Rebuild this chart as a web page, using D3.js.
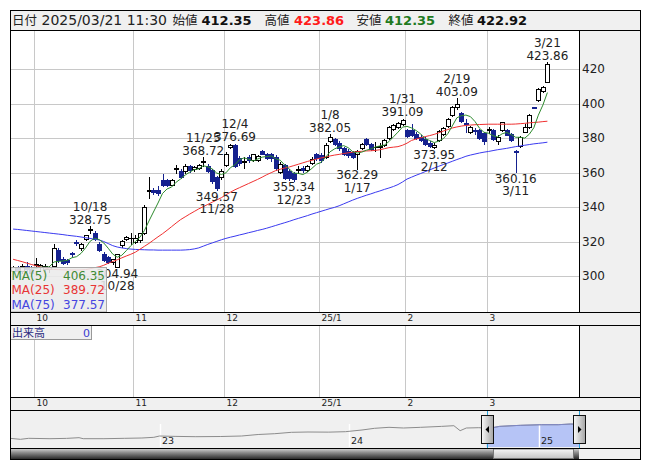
<!DOCTYPE html>
<html><head><meta charset="utf-8">
<script src="https://cdn.jsdelivr.net/npm/d3@7"></script>
<style>body{margin:0;background:#fff}svg{display:block}</style>
</head><body>
<svg id="c" width="653" height="470"></svg>
<script>
// ---------------- DATA ----------------
const dates = ["2024-09-24","2024-09-25","2024-09-26","2024-09-27","2024-09-30",
"2024-10-01","2024-10-02","2024-10-03","2024-10-04","2024-10-07","2024-10-08","2024-10-09","2024-10-10","2024-10-11","2024-10-15","2024-10-16","2024-10-17","2024-10-18","2024-10-21","2024-10-22","2024-10-23","2024-10-24","2024-10-25","2024-10-28","2024-10-29","2024-10-30","2024-10-31",
"2024-11-01","2024-11-05","2024-11-06","2024-11-07","2024-11-08","2024-11-11","2024-11-12","2024-11-13","2024-11-14","2024-11-15","2024-11-18","2024-11-19","2024-11-20","2024-11-21","2024-11-22","2024-11-25","2024-11-26","2024-11-27","2024-11-28","2024-11-29",
"2024-12-02","2024-12-03","2024-12-04","2024-12-05","2024-12-06","2024-12-09","2024-12-10","2024-12-11","2024-12-12","2024-12-13","2024-12-16","2024-12-17","2024-12-18","2024-12-19","2024-12-20","2024-12-23","2024-12-24","2024-12-25","2024-12-26","2024-12-27","2024-12-30",
"2025-01-06","2025-01-07","2025-01-08","2025-01-09","2025-01-10","2025-01-14","2025-01-15","2025-01-16","2025-01-17","2025-01-20","2025-01-21","2025-01-22","2025-01-23","2025-01-24","2025-01-27","2025-01-28","2025-01-29","2025-01-30","2025-01-31",
"2025-02-03","2025-02-04","2025-02-05","2025-02-06","2025-02-07","2025-02-10","2025-02-12","2025-02-13","2025-02-14","2025-02-17","2025-02-18","2025-02-19","2025-02-20","2025-02-21","2025-02-25","2025-02-26","2025-02-27","2025-02-28",
"2025-03-03","2025-03-04","2025-03-05","2025-03-06","2025-03-07","2025-03-10","2025-03-11","2025-03-12","2025-03-13","2025-03-14","2025-03-17","2025-03-18","2025-03-19","2025-03-21"];

const open = [303,305,303,306,304,
306.5,305,304,304,306,315,310,309,313.5,320,316,321.5,326.5,325,318.5,313,311,308,305.5,318,321.5,322,
320,321,325,349.5,350,350,355.5,355.5,353,362,361,361,364,362,362.5,366,364,361.5,357.5,357.5,
364.5,374.5,375.8,368.5,366,369,367.5,367.5,372.5,370.5,371,369,360.5,364.5,361,359.5,361.5,362.5,361.5,365.5,370.5,
370,369,378,379.5,377,374,372.5,372,370.5,374,379.5,376.5,374.5,375,376,380,385,386.5,388,
384.5,384.5,382.5,380.5,379.5,377,374.5,379,382.5,387,393.5,398,394.5,388.5,383.5,384.5,384.5,383,
384.8,384.5,378.5,384.6,384.6,382.5,372.3,375.5,383.7,386.5,398,402,407.5,412.35];

const high = [306,306,307,308,306,
310.4,307,307,306,318.5,316.5,311,310,314,321,319,324,328.75,326,319.5,314,311.5,310,313,321,323,325,
324,325,341,357.5,351,352,359,356.5,356.5,364.5,362,365,364.5,364,365,368.72,365,362,358,362,
372,376.5,376.69,369.5,369,370,371,370,373,371.5,371.5,370,366,365,362,360.5,363.5,363.5,364.5,369,371.5,
371.5,377,382.05,380,378,375,373.5,372.5,373,377,380,377,377.5,377,379.5,387,388,389,391.09,
385,388,383.5,381.5,380.5,378,377,384.5,386.5,391.5,398.5,403.09,395,391,387,386,385,383.5,
386.5,385,382,389.5,385,383,372.8,381,388,393.8,398.2,408.8,410.3,423.86];

const low = [301,302,302,303,300,
304.6,303,303,302.5,305,308,307,307,311.5,318,315,321,325,321,314.5,308.5,307.5,307,304.94,317,321,318.5,
319,320,324.5,345.5,347.5,347,352,352,352.5,359.5,357,360,360.5,361,362,363.5,360.5,354,349.57,356.5,
364,374,363,364.5,362.5,366,366.5,366.8,370.5,368,366.5,361.5,360,356,355.5,355.34,359.5,360.5,361,365,367.5,
366,368.5,377.5,376,373,370,369,368.5,362.29,373.5,376,373,372.5,369,375.5,379.5,384.5,386,387.5,
380.5,381,379.5,378,376,375,373.95,378.5,382,386.5,393,397,389.5,383.5,383,382.5,379.5,376.5,
383,379,376.5,384,381.5,378,360.16,375,383.5,386,397.2,401.5,406.5,412.35];

const close = [305,303,306,304,302,
307,306.5,306,305,316,309,307.5,308,312.5,319,318.5,323.5,327,321.5,315,309,308,310,312.5,320.5,322.5,322.3,
322,325,340,350,348.5,348,352.8,353,355.5,362.5,357.5,364,361.5,363,364.5,366.5,361,355,351,361,
371,376,363.5,365.5,366.5,367,370.5,369.5,371,368.5,368.5,362.5,365,357,357,356.5,362,361.5,364,368,368.5,
367,376,380.5,376.5,374,371,370,369,372.5,376.5,376.5,373.5,375,375.5,379,386.5,387.5,388.5,390.2,
381,382,380,378.8,376.5,375.5,376,384,386,391,398,399.5,390,388,386.5,384,380,378,
385.2,379.5,380.5,389,382,378.8,371.8,380.5,386.5,393.3,397.5,408.33,409.7,422.92];

const ma25 = [309.7,309.0,308.3,307.5,306.7,306.0,305.3,304.7,304.0,303.8,303.7,303.6,303.5,303.5,303.5,303.5,303.7,304.2,304.8,305.3,306.2,307.4,308.4,309.4,310.5,311.6,312.6,313.8,315.5,317.2,318.9,320.8,322.7,324.5,326.5,328.6,330.7,332.7,334.3,335.9,337.4,338.9,340.2,341.5,342.8,344.1,345.4,347.1,348.6,350.0,351.2,352.4,353.6,354.8,356.0,357.3,358.7,359.9,361.1,361.9,362.6,363.2,364.0,364.8,365.6,366.4,367.1,367.8,368.4,369.0,369.6,370.1,370.5,371.0,371.4,371.8,372.1,372.3,372.5,372.6,372.8,373.2,373.8,374.4,374.7,375.0,375.8,377.0,378.6,379.4,380.1,380.8,381.4,382.1,383.0,384.0,384.9,385.8,386.4,386.9,387.3,387.5,387.7,387.8,387.9,388.0,388.0,388.0,388.0,388.0,388.0,388.1,388.3,388.5,388.8,389.0,389.2,389.5,389.72];

const ma75 = [327.2,327.0,326.7,326.4,326.1,325.8,325.5,325.2,324.9,324.6,324.3,324.0,323.6,323.3,323.0,322.6,322.2,321.8,321.3,320.9,320.0,318.8,317.6,316.8,316.3,315.9,315.6,315.4,315.3,315.2,315.1,315.1,315.0,315.0,315.0,315.0,315.0,315.0,315.1,315.3,315.7,316.3,317.3,318.3,319.2,320.1,321.0,321.8,322.5,323.1,323.8,324.4,325.1,325.7,326.4,327.0,327.7,328.5,329.3,330.1,330.9,331.7,332.6,333.4,334.2,335.0,335.9,336.7,337.5,338.3,339.1,339.8,340.7,341.8,342.9,344.0,345.0,345.9,346.8,347.6,348.5,349.3,350.2,351.0,351.9,353.0,354.5,356.2,357.3,358.4,359.4,360.5,361.5,362.6,363.6,364.6,365.5,366.5,367.5,368.4,369.4,370.1,370.7,371.3,371.8,372.2,372.7,373.2,373.6,374.0,374.5,375.0,375.4,375.8,376.2,376.6,376.9,377.2,377.57];

const priceTicks = [300,320,340,360,380,400,420];
const monthLabels = ["10","11","12","25/1","2","3"];
const monthStarts = ["2024-10-01","2024-11-01","2024-12-02","2025-01-06","2025-02-03","2025-03-03"];
const highMarks = ["2024-10-18","2024-11-25","2024-12-04","2025-01-08","2025-01-31","2025-02-19","2025-03-21"];
const lowMarks = ["2024-10-28","2024-11-28","2024-12-23","2025-01-17","2025-02-12","2025-03-11"];
const headerStamp = "2025/03/21 11:30";
const headerNames = ["日付","始値","高値","安値","終値"];
const maNames = ["MA(5)","MA(25)","MA(75)"];
const volumeLabel = ["出来高","0"];

const navDates = ["2022-03-19","2022-04-08","2022-04-24","2022-06-04","2022-07-06","2022-07-30","2022-08-07","2022-09-16","2022-10-26","2022-11-28","2022-12-21","2023-01-01","2023-01-31","2023-03-12","2023-04-29","2023-06-08","2023-07-10","2023-08-11","2023-09-12","2023-10-14","2023-11-23","2023-12-25","2024-01-26","2024-02-19","2024-03-18","2024-04-15","2024-05-18","2024-06-27","2024-07-21","2024-08-02","2024-08-14","2024-09-07","2024-09-27","2024-10-17","2024-11-26","2025-01-06","2025-02-07","2025-03-03","2025-03-21"];
const navValues = [139,123,139,133,138,149,133,133,139,144,155,176,170,165,168,176,200,213,235,240,238,245,272,299,315,304,315,330,341,261,304,309,299,330,347,357,357,368,362];
const navYears = ["23","24","25"];
const navYearStarts = ["2023-01-01","2024-01-01","2025-01-01"];
const navWindow = ["2024-09-22","2025-03-19"];

// ---------------- LAYOUT ----------------
const L = 10, R = 641, PR = 579, PT = 30, PB = 312;
const FONT = "'DejaVu Sans', Verdana, sans-serif";
const JFONT = "'Noto Sans CJK JP', 'DejaVu Sans', sans-serif";
const C_DOWN = "#15218f", C_GRID = "#c8c8c8", C_PANEL = "#f0f0f0";

const svg = d3.select("#c");
const defs = svg.append("defs");
defs.append("clipPath").attr("id","plotClip").append("rect").attr("x",L).attr("y",PT).attr("width",PR-L).attr("height",PB-PT);
defs.append("clipPath").attr("id","navClip").append("rect").attr("x",L).attr("y",411).attr("width",PR-L).attr("height",37);
function grad(id, stops, horiz){
  const g = defs.append("linearGradient").attr("id",id).attr("x1",0).attr("y1",0).attr("x2",horiz?1:0).attr("y2",horiz?0:1);
  stops.forEach(s=>g.append("stop").attr("offset",s[0]).attr("stop-color",s[1]));
}
grad("sbDark",[["0%","#d4d4d4"],["40%","#8a8a8a"],["100%","#2a2a2a"]]);
grad("sbThumb",[["0%","#f6f6f6"],["100%","#c4c4c4"]]);
grad("handle",[["0%","#fafafa"],["100%","#a4a4a4"]],true);

const n = dates.length;
const x = d3.scaleLinear().domain([-0.685, 124.98]).range([L, PR]);
const y = d3.scaleLinear().domain([279.13, 442.61]).range([PB, PT]);
const idxOf = d => dates.indexOf(d);
const cx = i => Math.round(x(i));

// backgrounds
svg.append("rect").attr("x",0).attr("y",0).attr("width",653).attr("height",470).attr("fill","#fff");
svg.append("rect").attr("x",L).attr("y",10).attr("width",R-L).attr("height",20).attr("fill",C_PANEL);
svg.append("rect").attr("x",PR).attr("y",PT).attr("width",R-PR).attr("height",PB-PT).attr("fill",C_PANEL);
svg.append("rect").attr("x",L).attr("y",312).attr("width",R-L).attr("height",13).attr("fill",C_PANEL);
svg.append("rect").attr("x",PR).attr("y",325).attr("width",R-PR).attr("height",72).attr("fill",C_PANEL);
svg.append("rect").attr("x",L).attr("y",397).attr("width",R-L).attr("height",13).attr("fill",C_PANEL);
svg.append("rect").attr("x",L).attr("y",410).attr("width",R-L).attr("height",49).attr("fill",C_PANEL);

// grid
const gridXs = monthStarts.map(d => Math.round(x(idxOf(d)) - 2) + 0.5);
const grid = svg.append("g").attr("stroke",C_GRID).attr("stroke-width",1);
priceTicks.forEach(v => {
  const yy = Math.round(y(v)) + 0.5;
  grid.append("line").attr("x1",L).attr("x2",PR).attr("y1",yy).attr("y2",yy);
});
gridXs.forEach(gx => {
  grid.append("line").attr("x1",gx).attr("x2",gx).attr("y1",PT).attr("y2",PB);
  grid.append("line").attr("x1",gx).attr("x2",gx).attr("y1",325).attr("y2",397);
});

// y-axis labels
const yAxis = d3.axisRight(y).tickValues(priceTicks).tickSize(0).tickPadding(3);
const ya = svg.append("g").attr("transform",`translate(${PR},0)`).call(yAxis);
ya.select(".domain").remove();
ya.selectAll("text").attr("font-family",FONT).attr("font-size","12px").attr("fill","#222");

// month labels (two strips)
[321, 406].forEach(base => {
  monthLabels.forEach((t,k) => {
    svg.append("text").attr("x",gridXs[k]+2).attr("y",base).text(t)
      .attr("font-family",FONT).attr("font-size","9px").attr("fill","#222");
  });
});

// candles
const cg = svg.append("g").attr("clip-path","url(#plotClip)");
for (let i=0;i<n;i++){
  const up = close[i] >= open[i];
  const c = cx(i);
  const col = up ? "#000" : C_DOWN;
  cg.append("line").attr("x1",c+0.5).attr("x2",c+0.5).attr("y1",Math.round(y(high[i]))).attr("y2",Math.round(y(low[i]))+1)
    .attr("stroke",col).attr("stroke-width",1);
  const t = Math.round(y(Math.max(open[i],close[i]))), b = Math.round(y(Math.min(open[i],close[i])));
  if (b - t < 1) {
    cg.append("line").attr("x1",c-2).attr("x2",c+3).attr("y1",t+0.5).attr("y2",t+0.5).attr("stroke",col);
  } else if (up) {
    cg.append("rect").attr("x",c-1.5).attr("y",t+0.5).attr("width",4).attr("height",b-t)
      .attr("fill","#fff").attr("stroke","#000").attr("stroke-width",1);
  } else {
    cg.append("rect").attr("x",c-2).attr("y",t).attr("width",5).attr("height",b-t+1).attr("fill",C_DOWN);
  }
}

// moving averages
const ma5 = close.map((v,i) => i<4 ? null : d3.mean(close.slice(i-4,i+1)));
const line = d3.line().defined(d => d[1] != null).x(d => x(d[0])).y(d => y(d[1]));
[[ma75,"#3a3af0"],[ma25,"#f03030"],[ma5,"#2e8b2e"]].forEach(([arr,col]) => {
  cg.append("path").attr("d",line(arr.map((v,i)=>[i,v]))).attr("fill","none").attr("stroke",col).attr("stroke-width",1);
});

// annotations
const ann = svg.append("g").attr("font-family",FONT).attr("font-size","12px").attr("fill","#222").attr("text-anchor","middle");
const md = d => { const p = d.split("-"); return (+p[1]) + "/" + (+p[2]); };
highMarks.forEach(d => {
  const i = idxOf(d), yy = y(high[i]);
  ann.append("text").attr("x",x(i)).attr("y",yy-15.5).text(md(d));
  ann.append("text").attr("x",x(i)).attr("y",yy-2.5).text(high[i].toFixed(2));
});
lowMarks.forEach(d => {
  const i = idxOf(d), yy = y(low[i]);
  ann.append("text").attr("x",x(i)).attr("y",yy+10.5).text(low[i].toFixed(2));
  ann.append("text").attr("x",x(i)).attr("y",yy+23).text(md(d));
});

// MA legend
const lg = svg.append("g");
lg.append("rect").attr("x",L+0.5).attr("y",267.5).attr("width",96).attr("height",44.5)
  .attr("fill","#ebebeb").attr("fill-opacity",0.88).attr("stroke","#a8a8a8");
const lastVals = [ma5[n-1], ma25[n-1], ma75[n-1]];
const lcol = ["#3f8a35","#e83535","#4545e0"];
maNames.forEach((t,k) => {
  const base = 279.5 + k*14.5;
  lg.append("text").attr("x",11.5).attr("y",base).text(t).attr("font-family",FONT).attr("font-size","12px").attr("fill",lcol[k]);
  lg.append("text").attr("x",105).attr("y",base).attr("text-anchor","end").text((Math.round(lastVals[k]*100)/100).toFixed(2))
    .attr("font-family",FONT).attr("font-size","12px").attr("fill",lcol[k]);
});

// volume label
svg.append("rect").attr("x",L+0.5).attr("y",325.5).attr("width",81).attr("height",14).attr("fill",C_PANEL).attr("stroke","#999");
svg.append("text").attr("x",12).attr("y",337).text(volumeLabel[0]).attr("font-family",JFONT).attr("font-size","11px").attr("fill","#2a2a80");
svg.append("text").attr("x",90).attr("y",337).attr("text-anchor","end").text(volumeLabel[1]).attr("font-family",FONT).attr("font-size","11px").attr("fill","#3a3ad0");

// header
const last = n-1;
const hdr = [
  [12, headerNames[0], JFONT, "12.5px", "normal", "#222"],
  [41.5, headerStamp, FONT, "14px", "normal", "#222"],
  [172.5, headerNames[1], JFONT, "12.5px", "normal", "#222"],
  [201.5, open[last].toFixed(2), FONT, "13px", "bold", "#111"],
  [264.5, headerNames[2], JFONT, "12.5px", "normal", "#222"],
  [294, high[last].toFixed(2), FONT, "13px", "bold", "#ff1a1a"],
  [356.5, headerNames[3], JFONT, "12.5px", "normal", "#222"],
  [385, low[last].toFixed(2), FONT, "13px", "bold", "#1f7a1f"],
  [448.5, headerNames[4], JFONT, "12.5px", "normal", "#222"],
  [477, close[last].toFixed(2), FONT, "13px", "bold", "#111"]
];
hdr.forEach(h => svg.append("text").attr("x",h[0]).attr("y",25).text(h[1]).attr("font-family",h[2])
  .attr("font-size",h[3]).attr("font-weight",h[4]).attr("fill",h[5]));

// navigator
const pd = d3.timeParse("%Y-%m-%d");
const nx = d3.scaleTime().domain([pd("2022-03-19"), pd("2025-03-19")]).range([L, PR]);
const ny = d3.scaleLinear().domain([0, 592]).range([447, 410]);
const navPts = navDates.map((d,k) => [nx(pd(d)), ny(navValues[k])]);
const ng = svg.append("g").attr("clip-path","url(#navClip)");
const wx0 = nx(pd(navWindow[0])), wx1 = PR;
ng.append("clipPath").attr("id","selClip").append("rect").attr("x",wx0).attr("y",410).attr("width",wx1-wx0).attr("height",38);
ng.append("path").attr("clip-path","url(#selClip)")
  .attr("d", d3.area().x(d=>d[0]).y0(447).y1(d=>d[1])(navPts)).attr("fill","#b6c4f6");
navYearStarts.forEach((d,k) => {
  const xx = Math.round(nx(pd(d))) + 0.5;
  ng.append("line").attr("x1",xx).attr("x2",xx).attr("y1",424).attr("y2",447).attr("stroke","#fff").attr("stroke-width",1.5);
  ng.append("text").attr("x",xx+1.5).attr("y",444).text(navYears[k]).attr("font-family",FONT).attr("font-size","9.5px").attr("fill","#222");
});
ng.append("path").attr("d", d3.line()(navPts)).attr("fill","none").attr("stroke","#8c8c8c").attr("stroke-width",1);
ng.append("path").attr("clip-path","url(#selClip)").attr("d", d3.line()(navPts)).attr("fill","none").attr("stroke","#7d86c4").attr("stroke-width",1);
[wx0, wx1].forEach(xx => svg.append("line").attr("x1",Math.round(xx)+0.5).attr("x2",Math.round(xx)+0.5).attr("y1",410).attr("y2",448).attr("stroke","#2aa3db"));
// handles
[[wx0,-1],[wx1,1]].forEach(([xx,dir]) => {
  const hx = Math.round(xx) - 6;
  svg.append("rect").attr("x",hx+0.5).attr("y",415.5).attr("width",12).attr("height",28).attr("fill","url(#handle)").attr("stroke","#111");
  const c = hx + 6.5, cyy = 429.5;
  svg.append("path").attr("d", dir<0 ? `M${c-2},${cyy} L${c+1.5},${cyy-3.5} L${c+1.5},${cyy+3.5} Z` : `M${c+2},${cyy} L${c-1.5},${cyy-3.5} L${c-1.5},${cyy+3.5} Z`).attr("fill","#000");
});

// scrollbar
svg.append("rect").attr("x",L).attr("y",448.5).attr("width",PR-L).attr("height",10.5).attr("fill","url(#sbDark)");
svg.append("rect").attr("x",493.5).attr("y",449).attr("width",80).attr("height",9.5).attr("fill","url(#sbThumb)").attr("stroke","#777");

// frame lines
const fr = svg.append("g").attr("stroke","#000").attr("stroke-width",1).attr("fill","none");
fr.append("rect").attr("x",L+0.5).attr("y",10.5).attr("width",R-L-1).attr("height",449);
[30.5, 312.5, 325.5, 397.5, 410.5, 448.5].forEach(yy => fr.append("line").attr("x1",L).attr("x2",R).attr("y1",yy).attr("y2",yy));
fr.append("line").attr("x1",PR+0.5).attr("x2",PR+0.5).attr("y1",30).attr("y2",312);
fr.append("line").attr("x1",PR+0.5).attr("x2",PR+0.5).attr("y1",325).attr("y2",397);
</script>
</body></html>
